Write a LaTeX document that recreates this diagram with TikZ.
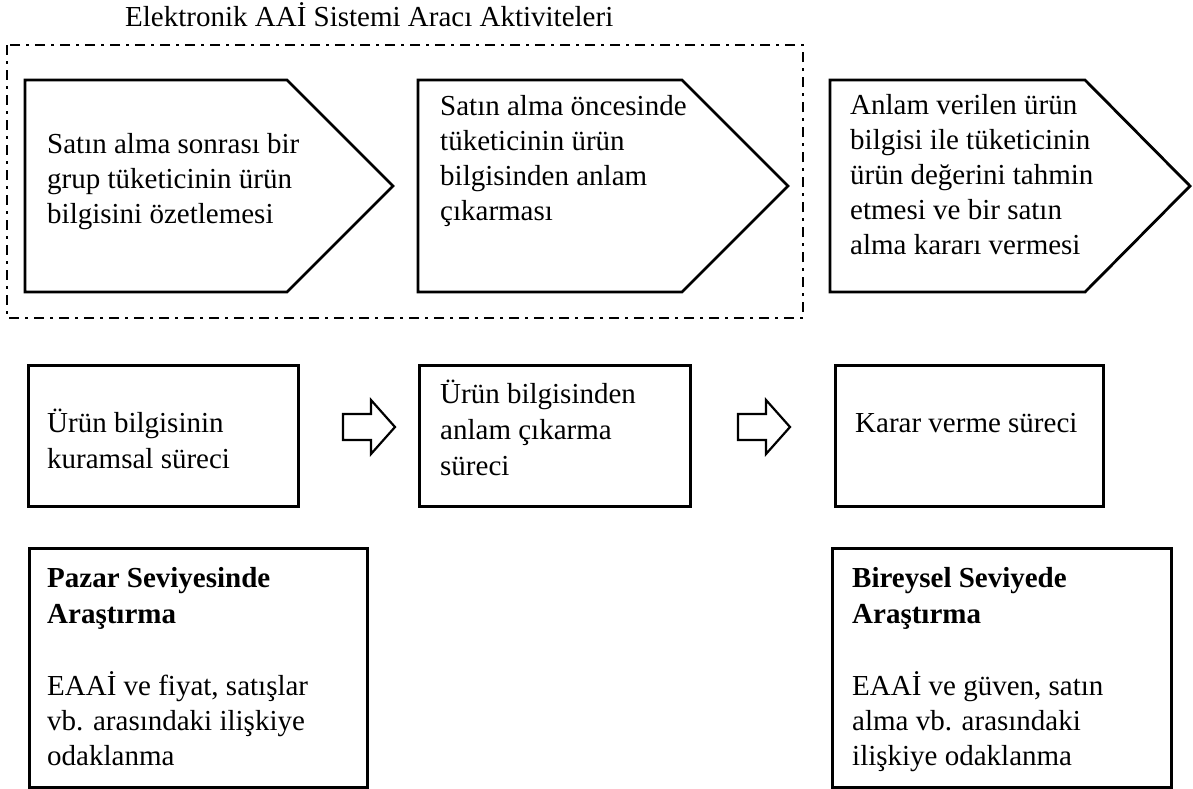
\documentclass[tikz,border=0pt]{standalone}
\usepackage{fontspec}
\setmainfont{Liberation Serif}
\begin{document}
\begin{tikzpicture}[x=1pt,y=-1pt,
  % multi-line nodes are placed by the baseline of their last line
  body/.style={font=\fontsize{29}{35}\selectfont, align=left, inner sep=0pt, anchor=base west},
  wide/.style={body, font=\fontsize{29}{36}\selectfont},
  headtext/.style={body, font=\fontsize{29}{36}\selectfont\bfseries},
  outline/.style={draw=black, line width=2.8pt, line join=miter},
  group/.style={draw=black, line width=2.4pt, dash pattern=on 10pt off 6pt on 3pt off 6pt},
  hollow/.style={draw=black, line width=2.2pt, line join=miter, fill=white},
  procbox/.style={outline, rectangle, inner sep=0pt, anchor=north west}]
\useasboundingbox (0,0) rectangle (1193,788);

% heading of the dashed group
\node[body] (title) at (125,26) {Elektronik AAİ Sistemi Aracı Aktiviteleri};

% dash-dot frame round the tool activities
\draw[group] (7,45) rectangle (803,318);

% pentagon arrows of the first row
\draw[outline] (25,80) -- (287,80) -- (393,186) -- (287,292) -- (25,292) -- cycle;
\draw[outline] (418,80) -- (682,80) -- (788,186) -- (682,292) -- (418,292) -- cycle;
\draw[outline] (830,80) -- (1085,80) -- (1190,186) -- (1085,292) -- (830,292) -- cycle;

\node[body] (a1) at (47,223) {Satın alma sonrası bir\\grup tüketicinin ürün\\bilgisini özetlemesi};
\node[body] (a2) at (440,220) {Satın alma öncesinde\\tüketicinin ürün\\bilgisinden anlam\\çıkarması};
\node[body] (a3) at (850,254) {Anlam verilen ürün\\bilgisi ile tüketicinin\\ürün değerini tahmin\\etmesi ve bir satın\\alma kararı vermesi};

% process boxes of the second row
\node[procbox, minimum width=270, minimum height=141] (p1) at (27,364) {};
\node[procbox, minimum width=271, minimum height=141] (p2) at (418,364) {};
\node[procbox, minimum width=268, minimum height=141] (p3) at (834,364) {};

\node[wide] (p1t) at (47,468) {Ürün bilgisinin\\kuramsal süreci};
\node[wide] (p2t) at (440,475) {Ürün bilgisinden\\anlam çıkarma\\süreci};
\node[wide] (p3t) at (855,432) {Karar verme süreci};

% hollow arrows between the process boxes
\coordinate (h1) at (343,427);
\coordinate (h2) at (738,427);
\foreach \h in {h1,h2}
  \draw[hollow] (\h) ++(0,-13) -- ++(28,0) -- ++(0,-14) -- ++(24,27)
    -- ++(-24,27) -- ++(0,-14) -- ++(-28,0) -- cycle;

% research level boxes of the third row
\node[procbox, minimum width=338, minimum height=239] (r1) at (28,547) {};
\node[procbox, minimum width=339, minimum height=239] (r2) at (831,547) {};

\node[headtext] (r1h) at (47,623) {Pazar Seviyesinde\\Araştırma};
\node[body] (r1t) at (47,765) {EAAİ ve fiyat, satışlar\\vb. arasındaki ilişkiye\\odaklanma};
\node[headtext] (r2h) at (852,623) {Bireysel Seviyede\\Araştırma};
\node[body] (r2t) at (852,765) {EAAİ ve güven, satın\\alma vb. arasındaki\\ilişkiye odaklanma};
\end{tikzpicture}
\end{document}
